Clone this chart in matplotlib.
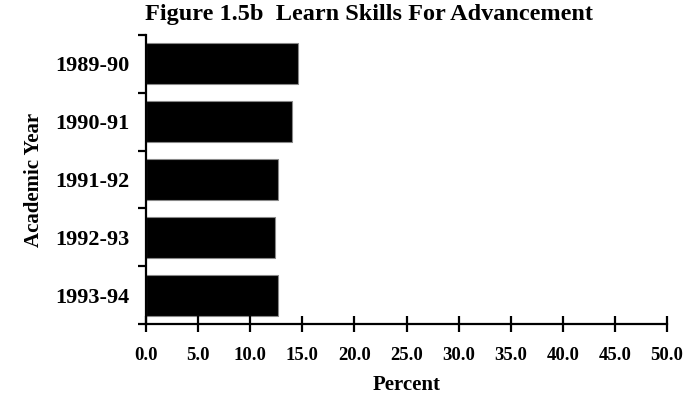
import matplotlib
matplotlib.use("Agg")
import matplotlib.pyplot as plt
import numpy as np

years = ["1989-90", "1990-91", "1991-92", "1992-93", "1993-94"]
percent = [14.6, 14.0, 12.7, 12.4, 12.7]
xticks = [0, 5, 10, 15, 20, 25, 30, 35, 40, 45, 50]
xticklabels = ["0.0", "5.0", "10.0", "15.0", "20.0", "25.0", "30.0", "35.0", "40.0", "45.0", "50.0"]

FONT = "Liberation Serif"

fig = plt.figure(figsize=(6.91, 4.07), dpi=100)
ax = fig.add_axes([146/691, (407-324)/407, (667-146)/691, (324-35)/407])

y = np.arange(len(years))
ax.barh(y, percent, height=0.71, color="black", edgecolor="#888888", linewidth=0.8)

ax.set_xlim(0, 50)
ax.set_ylim(len(years) - 0.5, -0.5)

ax.set_xticks(xticks)
ax.set_xticklabels(xticklabels, fontfamily=FONT, fontweight="bold", fontsize=13.5)
ax.tick_params(axis="x", direction="inout", length=11, width=1.6, pad=11, color="black")

ax.set_yticks(y)
ax.set_yticklabels(years, fontfamily=FONT, fontweight="bold", fontsize=16)
ax.tick_params(axis="y", which="major", length=0, pad=12)
ax.set_yticks(np.arange(-0.5, len(years) + 0.5, 1), minor=True)
ax.tick_params(axis="y", which="minor", direction="out", length=6, width=1.6, color="black")

for s in ["top", "right"]:
    ax.spines[s].set_visible(False)
for s in ["left", "bottom"]:
    ax.spines[s].set_linewidth(1.6)

ax.set_xlabel("Percent", fontfamily=FONT, fontweight="bold", fontsize=15, labelpad=8)
ax.set_ylabel("Academic Year", fontfamily=FONT, fontweight="bold", fontsize=15, labelpad=8)

fig.text(145/691, 1 - 4/407, "Figure 1.5b  Learn Skills For Advancement",
         fontfamily=FONT, fontweight="bold", fontsize=17.5, ha="left", va="top")

fig.savefig("out.png", dpi=100, facecolor="white")
